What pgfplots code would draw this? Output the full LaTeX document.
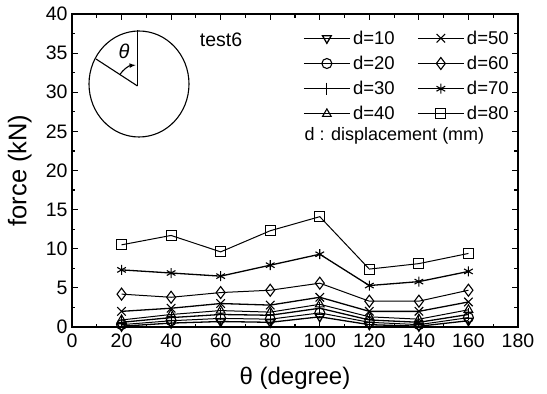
\documentclass[border=0pt]{standalone}
\usepackage{pgfplots}
\pgfplotsset{compat=1.18}
\usepackage{fontspec}
\setmainfont{Liberation Sans}
\begin{document}
\begin{tikzpicture}
\useasboundingbox (-72pt,-67pt) rectangle (475pt,327pt);
\begin{axis}[
  scale only axis, width=446pt, height=313pt,
  at={(0pt,0pt)}, anchor=south west,
  xmin=0, xmax=180, ymin=0, ymax=40,
  xtick={0,20,...,180}, ytick={0,5,...,40},
  minor x tick num=1, minor y tick num=1,
  tick align=inside, major tick length=6pt, minor tick length=3.5pt,
  axis line style={line width=1.6pt},
  every tick/.style={line width=1.2pt, black},
  /pgf/number format/assume math mode=true,
  ticklabel style={font=\fontsize{19.5}{20}\selectfont},
  xticklabel style={yshift=-3pt},
  yticklabel style={xshift=-1pt},
  xlabel={θ (degree)}, ylabel={force (kN)},
  xlabel style={font=\fontsize{24}{26}\selectfont, at={(axis description cs:0.5,-0.163)}, anchor=center},
  ylabel style={font=\fontsize{25.5}{26}\selectfont, at={(axis description cs:-0.117,0.5)}, anchor=center, rotate=0},
  legend columns=2,
  legend style={draw=none, fill=none, at={(axis description cs:0.518,0.950)}, anchor=north west,
    font=\fontsize{18.5}{20}\selectfont, row sep=8.3pt, /tikz/every even column/.append style={column sep=20pt},
    inner sep=0pt, nodes={inner xsep=2.5pt, inner ysep=1pt}},
  legend cell align=left,
  legend image code/.code={\draw[mark repeat=2,mark phase=2,#1] plot coordinates {(0pt,0pt) (23pt,0pt) (46pt,0pt)};},
  every axis plot/.append style={black, line width=1.3pt, mark size=5pt, mark options={solid, fill=white, line width=1.1pt}},
]
% d=10
\addplot[mark=triangle, mark options={rotate=180}] coordinates {(20,0.1) (40,0.5) (60,0.7) (80,0.6) (100,1.3) (120,0.3) (140,0.1) (160,0.8)};
\addlegendentry{d=10}
% d=50
\addplot[mark=x, mark size=6pt] coordinates {(20,2.0) (40,2.4) (60,3.0) (80,2.8) (100,3.8) (120,2.0) (140,2.0) (160,3.2)};
\addlegendentry{d=50}
% d=20
\addplot[mark=o, line width=1pt] coordinates {(20,0.3) (40,0.8) (60,1.1) (80,1.0) (100,1.8) (120,0.6) (140,0.3) (160,1.2)};
\addlegendentry{d=20}
% d=60
\addplot[mark=diamond, mark size=6pt, line width=1pt] coordinates {(20,4.2) (40,3.8) (60,4.4) (80,4.7) (100,5.6) (120,3.3) (140,3.3) (160,4.7)};
\addlegendentry{d=60}
% d=30
\addplot[mark=|, mark size=6pt] coordinates {(20,0.6) (40,1.2) (60,1.6) (80,1.5) (100,2.4) (120,0.9) (140,0.6) (160,1.6)};
\addlegendentry{d=30}
% d=70
\addplot[mark=asterisk, mark size=5pt] coordinates {(20,7.3) (40,6.9) (60,6.5) (80,7.9) (100,9.3) (120,5.3) (140,5.8) (160,7.1)};
\addlegendentry{d=70}
% d=40
\addplot[mark=triangle, line width=1pt] coordinates {(20,0.9) (40,1.6) (60,2.1) (80,1.9) (100,2.9) (120,1.3) (140,1.0) (160,2.2)};
\addlegendentry{d=40}
% d=80
\addplot[mark=square, line width=1pt] coordinates {(20,10.5) (40,11.7) (60,9.6) (80,12.3) (100,14.1) (120,7.4) (140,8.1) (160,9.4)};
\addlegendentry{d=80}
\end{axis}
% inset sketch (pixel-based picture coordinates)
\draw[line width=1.1pt] (67pt,243pt) ellipse [x radius=50pt, y radius=53pt];
\draw[line width=1.1pt] (65.5pt,241pt) -- (65.5pt,297pt);
\draw[line width=1.1pt] (65.5pt,241pt) -- (24pt,268pt);
\draw[line width=1.1pt,-latex] (65.5pt,241pt) ++(147:21pt) arc[start angle=147, end angle=95, radius=21pt];
\node[font=\fontsize{20}{20}\selectfont\itshape] at (52pt,276pt) {θ};
\node[font=\fontsize{19.5}{20}\selectfont] at (149pt,287pt) {test6};
\node[font=\fontsize{18}{20}\selectfont, anchor=west, inner ysep=1pt] at (229pt,191pt) {d : displacement (mm)};
\end{tikzpicture}
\end{document}
